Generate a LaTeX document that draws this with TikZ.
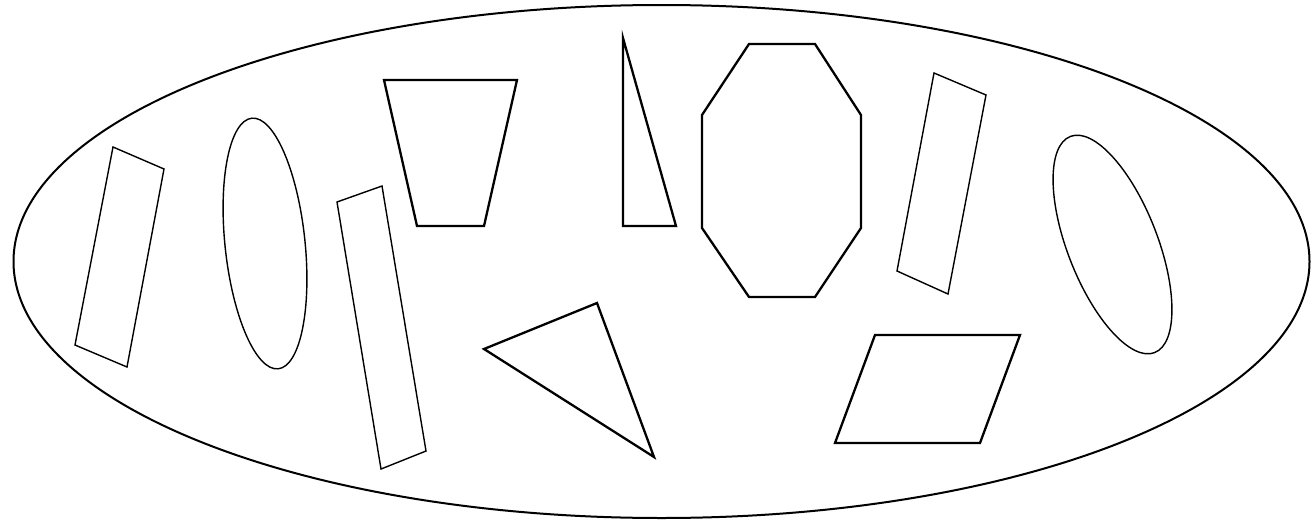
\documentclass[tikz,border=0pt]{standalone}
\begin{document}
\begin{tikzpicture}[x=1pt,y=-1pt,
  outer/.style={draw=black,line width=2pt},
  thinshape/.style={draw=black,line width=1.4pt,line join=miter},
  thickshape/.style={draw=black,line width=2.3pt,line join=miter}]
\useasboundingbox (0,0) rectangle (1312,522);
% outer ellipse
\draw[outer] (661.5,261.5) ellipse [x radius=648, y radius=256.5];
% left rectangle
\draw[thinshape] (113,147) -- (164,169) -- (127,367) -- (75,345) -- cycle;
% left ellipse
\draw[thinshape, rotate around={6:(265,243.5)}] (265,243.5) ellipse [x radius=40, y radius=126];
% long rectangle
\draw[thinshape] (337,202) -- (382,186) -- (426,451) -- (381,469) -- cycle;
% trapezoid
\draw[thickshape] (384,80) -- (517,80) -- (484,226) -- (417,226) -- cycle;
% right triangle
\draw[thickshape] (623,38) -- (676,226) -- (623,226) -- cycle;
% octagon
\draw[thickshape] (749,44) -- (815,44) -- (861,115) -- (861,228) -- (815,297) -- (749,297) -- (702,228) -- (702,115) -- cycle;
% right rectangle
\draw[thinshape] (934,73) -- (986,95) -- (948,294) -- (897,271) -- cycle;
% right ellipse
\draw[thinshape, rotate around={21.3:(1112.5,244.5)}] (1112.5,244.5) ellipse [x radius=45, y radius=116];
% bottom triangle
\draw[thickshape] (484,349) -- (597,303) -- (654,457) -- cycle;
% parallelogram
\draw[thickshape] (875,335) -- (1020,335) -- (980,443) -- (835,443) -- cycle;
\end{tikzpicture}
\end{document}
